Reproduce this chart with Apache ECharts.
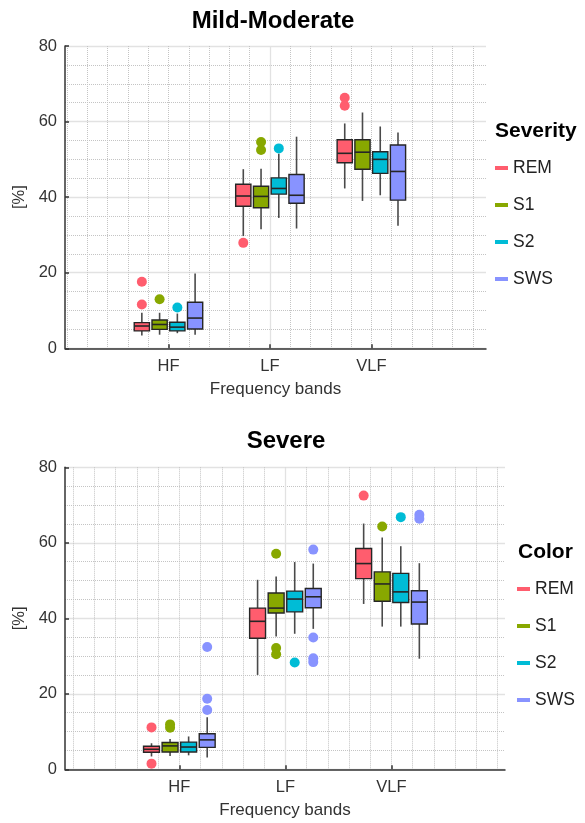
<!DOCTYPE html>
<html><head><meta charset="utf-8">
<script src="https://cdn.jsdelivr.net/npm/echarts@6/dist/echarts.min.js"></script>
<style>html,body{margin:0;padding:0;background:#fff}#c{width:585px;height:823px}</style>
</head><body><div id="c"></div>
<script>
const bands = ['HF', 'LF', 'VLF'];
const stages = ['REM', 'S1', 'S2', 'SWS'];
const stageColors = ['#FF5D6E', '#88A800', '#00BCD6', '#8893FF'];
const yTicks = [0, 20, 40, 60, 80];

// box values per band: [min, Q1, median, Q3, max]
const mildREM = [[3.4, 4.6, 5.9, 6.8, 9.4], [29.7, 37.6, 40.3, 43.4, 47.4], [42.3, 49.1, 51.6, 55.2, 59.5]];
const mildS1  = [[3.6, 5.0, 6.3, 7.5, 9.4], [31.5, 37.2, 40.2, 42.9, 47.5], [39.0, 47.4, 51.9, 55.2, 62.4]];
const mildS2  = [[4.0, 4.6, 5.6, 6.9, 9.2], [34.5, 40.8, 42.3, 45.1, 51.5], [40.5, 46.3, 50.0, 52.0, 58.7]];
const mildSWS = [[3.6, 5.1, 8.0, 12.2, 19.8], [31.7, 38.4, 40.5, 46.0, 56.0], [32.4, 39.2, 46.8, 53.8, 57.1]];
// outliers per band
const mildOutREM = [[17.6, 11.6], [27.9], [66.3, 64.2]];
const mildOutS1  = [[13.0], [54.6, 52.5], []];
const mildOutS2  = [[10.8], [52.9], []];
const mildOutSWS = [[], [], []];

const sevREM = [[3.4, 4.5, 5.3, 6.1, 6.9], [25.0, 34.7, 39.2, 42.7, 50.2], [43.8, 50.5, 54.5, 58.5, 65.1]];
const sevS1  = [[3.5, 4.6, 6.2, 7.1, 8.0], [35.2, 41.4, 42.7, 46.7, 51.1], [37.8, 44.5, 49.1, 52.3, 61.4]];
const sevS2  = [[3.7, 4.6, 5.9, 7.2, 8.7], [35.9, 41.7, 45.1, 47.2, 54.9], [37.8, 44.2, 47.0, 51.9, 59.1]];
const sevSWS = [[3.1, 5.8, 7.8, 9.4, 13.8], [37.2, 42.8, 45.7, 47.9, 54.5], [29.3, 38.5, 44.3, 47.3, 54.6]];
const sevOutREM = [[11.1, 1.5], [], [72.5]];
const sevOutS1  = [[11.9, 11.0], [57.1, 32.1, 30.5], [64.3]];
const sevOutS2  = [[], [28.3], [66.8]];
const sevOutSWS = [[32.4, 18.7, 15.7], [58.2, 34.9, 29.4, 28.4], [67.4, 66.4]];

const boxSets = [[mildREM, mildS1, mildS2, mildSWS], [sevREM, sevS1, sevS2, sevSWS]];
const outSets = [[mildOutREM, mildOutS1, mildOutS2, mildOutSWS], [sevOutREM, sevOutS1, sevOutS2, sevOutSWS]];

const DODGE = [-0.2625, -0.0875, 0.0875, 0.2625];
const BOX_W = 0.15;
const FONT = 'Liberation Sans, Arial, sans-serif';

const xRanges = [[-0.02, 4.13], [-0.078, 4.07]];
const grids = [
  {left: 65, top: 46, width: 421, height: 302.3},
  {left: 65, top: 467.3, width: 440, height: 302}
];

function renderBox(params, api) {
  const x = api.value(0);
  const pMin = api.coord([x, api.value(1)]);
  const pQ1 = api.coord([x, api.value(2)]);
  const pMed = api.coord([x, api.value(3)]);
  const pQ3 = api.coord([x, api.value(4)]);
  const pMax = api.coord([x, api.value(5)]);
  const half = api.size([BOX_W, 0])[0] / 2;
  const cx = pMed[0];
  const color = api.visual('color');
  return {type: 'group', children: [
    {type: 'line', shape: {x1: cx, y1: pMax[1], x2: cx, y2: pQ3[1]}, style: {stroke: '#4a4a4a', lineWidth: 1.6}},
    {type: 'line', shape: {x1: cx, y1: pQ1[1], x2: cx, y2: pMin[1]}, style: {stroke: '#4a4a4a', lineWidth: 1.6}},
    {type: 'rect', shape: {x: cx - half, y: pQ3[1], width: 2 * half, height: pQ1[1] - pQ3[1]},
      style: {fill: color, stroke: '#262626', lineWidth: 1.4}},
    {type: 'line', shape: {x1: cx - half, y1: pMed[1], x2: cx + half, y2: pMed[1]}, style: {stroke: '#262626', lineWidth: 1.6}}
  ]};
}

const xAxes = [], yAxes = [], series = [];
[0, 1].forEach(function (g) {
  const r = xRanges[g];
  xAxes.push({
    gridIndex: g, type: 'value', position: 'top', min: r[0], max: r[1], splitNumber: 20,
    axisLine: {show: false}, axisTick: {show: false}, axisLabel: {show: false},
    splitLine: {show: true, showMinLine: false, showMaxLine: false, lineStyle: {type: 'dotted', color: '#c4c4c4', width: 1}}
  });
  xAxes.push({
    gridIndex: g, type: 'value', position: 'bottom', min: r[0], max: r[1],
    axisLine: {show: true, onZero: false, lineStyle: {color: '#333', width: 1.5}},
    axisTick: {show: true, inside: true, length: 4, customValues: [1, 2, 3], lineStyle: {color: '#333', width: 1.5}},
    axisLabel: {customValues: [1, 2, 3], formatter: function (v) { return bands[Math.round(v) - 1] || ''; },
      fontSize: 16.5, color: '#333', margin: 10, fontFamily: FONT},
    splitLine: {show: true, showMinLine: false, showMaxLine: false, lineStyle: {color: '#e2e2e2', width: 1.3}},
    name: 'Frequency bands', nameLocation: 'middle', nameGap: 33,
    nameTextStyle: {fontSize: 17, color: '#333', fontFamily: FONT}
  });
  yAxes.push({
    gridIndex: g, type: 'value', min: yTicks[0], max: yTicks[yTicks.length - 1], interval: 20,
    axisLine: {show: true, onZero: false, lineStyle: {color: '#333', width: 1.5}},
    axisTick: {show: true, inside: true, length: 4, lineStyle: {color: '#333', width: 1.5}},
    axisLabel: {fontSize: 16.5, color: '#333', margin: 8, fontFamily: FONT},
    splitLine: {show: true, lineStyle: {color: '#e2e2e2', width: 1.3}},
    minorTick: {show: false, splitNumber: 4},
    minorSplitLine: {show: true, lineStyle: {type: 'dotted', color: '#c4c4c4', width: 1}},
    name: '[%]', nameLocation: 'middle', nameGap: 31,
    nameTextStyle: {fontSize: 16.5, color: '#333', fontFamily: FONT}
  });
  stages.forEach(function (st, s) {
    const boxes = boxSets[g][s];
    series.push({
      name: st, type: 'custom', xAxisIndex: 2 * g + 1, yAxisIndex: g, z: 3,
      itemStyle: {color: stageColors[s]},
      encode: {x: 0, y: [1, 2, 3, 4, 5]},
      renderItem: renderBox,
      data: boxes.map(function (b, i) { return [i + 1 + DODGE[s]].concat(b); })
    });
    const pts = [];
    outSets[g][s].forEach(function (vals, i) {
      vals.forEach(function (v) { pts.push([i + 1 + DODGE[s], v]); });
    });
    series.push({
      name: st, type: 'scatter', xAxisIndex: 2 * g + 1, yAxisIndex: g, z: 4,
      symbolSize: 10, itemStyle: {color: stageColors[s], opacity: 1},
      data: pts
    });
  });
});

const legendBase = {
  orient: 'vertical', icon: 'rect', itemWidth: 13, itemHeight: 4, itemGap: 19, padding: 0,
  selectedMode: false, data: stages,
  textStyle: {fontSize: 17.5, color: '#222', fontFamily: FONT}
};

const chart = echarts.init(document.getElementById('c'), null, {renderer: 'canvas'});
chart.setOption({
  animation: false,
  backgroundColor: '#fff',
  textStyle: {fontFamily: FONT},
  color: stageColors,
  title: [
    {text: 'Mild-Moderate', left: 273, top: 9, textAlign: 'center', padding: 0,
      textStyle: {fontSize: 24, fontWeight: 'bold', color: '#000', fontFamily: FONT}},
    {text: 'Severe', left: 286, top: 429, textAlign: 'center', padding: 0,
      textStyle: {fontSize: 24, fontWeight: 'bold', color: '#000', fontFamily: FONT}},
    {text: 'Severity', left: 495, top: 120.5, textAlign: 'left', padding: 0,
      textStyle: {fontSize: 21, fontWeight: 'bold', color: '#000', fontFamily: FONT}},
    {text: 'Color', left: 518, top: 541.5, textAlign: 'left', padding: 0,
      textStyle: {fontSize: 21, fontWeight: 'bold', color: '#000', fontFamily: FONT}}
  ],
  legend: [
    Object.assign({}, legendBase, {left: 495, top: 159}),
    Object.assign({}, legendBase, {left: 517, top: 580})
  ],
  grid: grids,
  xAxis: xAxes,
  yAxis: yAxes,
  series: series
});
</script></body></html>
